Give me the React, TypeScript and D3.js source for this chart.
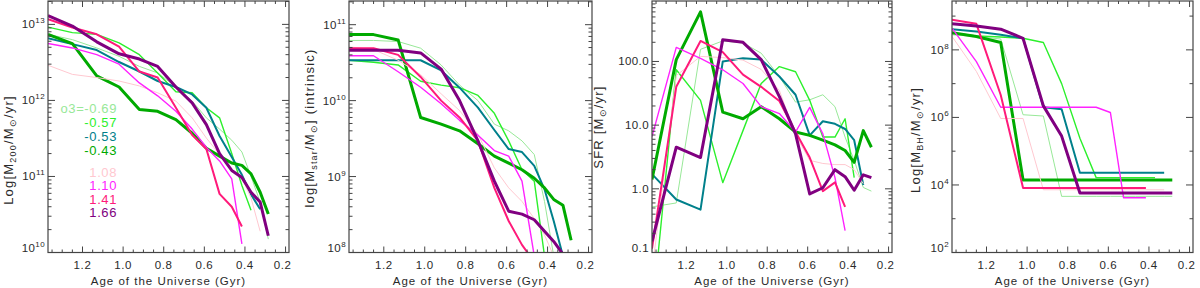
import React, { useEffect, useRef } from 'react';
import * as d3 from 'd3';

// snapshot ages (Gyr)
const ages = [1.37, 1.25, 1.13, 1.02, 0.92, 0.83, 0.74, 0.66, 0.59, 0.525, 0.465, 0.415, 0.37, 0.325, 0.285];

const runLabels = ['o3=-0.69', '-0.57', '-0.53', '-0.43', '1.08', '1.10', '1.41', '1.66'];
const runColors = ['#98e898', '#2cf02c', '#00808b', '#00aa00', '#ffc8d0', '#ff22ff', '#ff1a7a', '#800080'];
const runWidths = [1, 1.4, 2, 3, 1, 1.4, 2, 3];

// M200 per run, same order as runLabels
const m200Values = [
  [7.4e12, 6.3e12, 4.9e12, 3.8e12, 2.8e12, 2.3e12, 1.5e12, 9.8e11, 5.9e11, 4.2e11, 3.0e11, 2.1e11, 1.0e11, 4.6e10, 1.5e10],
  [9.2e12, 7.8e12, 7.4e12, 5.7e12, 4.0e12, 2.3e12, 1.3e12, 1.26e12, 8e11, 5.9e11, 2.0e11, 7.6e10, 3.6e10],
  [6.6e12, 5.5e12, 4.6e12, 3.2e12, 2.4e12, 1.8e12, 1.5e12, 1.2e12, 8e11, 3.4e11, 1.8e11, 1.05e11, 5.8e10, 3.7e10],
  [7.4e12, 5.6e12, 2.1e12, 1.5e12, 7.6e11, 7.2e11, 5.6e11, 3.7e11, 2.35e11, 1.85e11, 1.5e11, 1.4e11, 1.08e11, 6.2e10, 3.2e10],
  [2.9e12, 2.2e12, 2.0e12, 1.8e12, 1.55e12, 1.26e12, 9.8e11, 5.9e11, 3.2e11, 1.95e11, 1.23e11, 9.5e10, 5.2e10, 1.9e10],
  [5.6e12, 4.9e12, 4.0e12, 3.0e12, 1.7e12, 1.15e12, 7.2e11, 4.2e11, 2.4e11, 1.6e11, 9.3e10, 1.3e10],
  [1.17e13, 9.1e12, 7.4e12, 5.1e12, 2.4e12, 2.0e12, 8e11, 3.5e11, 2.3e11, 5.9e10, 4.0e10, 2.2e10],
  [1.3e13, 9.5e12, 5.9e12, 4.1e12, 3.5e12, 2.8e12, 1.5e12, 9.3e11, 4.8e11, 2.0e11, 1.2e11, 9.7e10, 6.2e10, 4.6e10, 1.66e10],
];

// stellar mass
const mstarValues = [
  [6.2e10, 6.2e10, 6.0e10, 4.9e10, 2.95e10, 1.6e10, 1.0e10, 4.9e9, 4.0e9, 2.95e9, 1.95e9, 4.7e8, 9e7],
  [3.4e10, 3.2e10, 2.95e10, 1.8e10, 1.6e10, 1.48e10, 1.17e10, 6.8e9, 2.95e9, 1.23e9, 8.7e8, 9e7],
  [3.4e10, 3.4e10, 3.4e10, 3.4e10, 2.5e10, 1.48e10, 8.1e9, 4.1e9, 2.3e9, 2.1e9, 1.38e9, 6.8e8, 2.6e8, 9e7],
  [7.4e10, 7.4e10, 6.3e10, 6.0e9, 4.9e9, 4.0e9, 2.7e9, 1.86e9, 1.5e9, 1.23e9, 9.5e8, 7.1e8, 5.0e8, 4.2e8, 1.45e8],
  [5.1e10, 4.7e10, 3.4e10, 2.2e10, 1.23e10, 7.4e9, 3.6e9, 1.3e9, 7.1e8, 4.7e8, 2.8e8, 1.7e8, 9e7, 6e7],
  [3.9e10, 3.9e10, 2.4e10, 1.5e10, 9.1e9, 5.5e9, 3.5e9, 2.2e9, 1.86e9, 8.7e8, 9e7, 3e7],
  [4.9e10, 4.9e10, 4.0e10, 2.05e10, 1.0e10, 6.0e9, 2.95e9, 7.1e8, 2.6e8, 1.26e8, 7.5e7, 5e7],
  [4.6e10, 4.6e10, 4.6e10, 4.25e10, 2.6e10, 1.0e10, 2.95e9, 8.7e8, 3.5e8, 3.2e8, 2.7e8, 1.9e8, 1.4e8, 9.5e7, 6e7],
];

// star formation rate
const sfrValues = [
  [0.52, 0.6, 155, 210, 195, 135, 58, 23, 25, 30, 19.5, 6.5, 2.8, 1.05, 0.92],
  [0.01, 74, 24.5, 1.25, 8.2, 45, 83, 69, 24.5, 6.5, 6.5, 12.6, 1.5],
  [1.7, 0.68, 0.47, 100, 112, 107, 58, 30, 6.9, 11.5, 10.5, 8.7, 5.8, 1.15],
  [1.4, 107, 600, 16, 12.6, 19.5, 12.6, 7.8, 6.9, 5.8, 4.9, 4.0, 2.6, 8.2, 4.5],
  [0.05, 60, 120, 115, 105, 75, 35, 7, 2.8, 2.5, 2.4, 2.4, 2.0, 1.2],
  [6.6, 166, 112, 74, 45, 19.5, 15.2, 7.8, 19, 7.3, 1.5, 0.22],
  [0.115, 40, 210, 140, 62, 40, 24, 7.8, 3.1, 0.92, 1.26, 0.52],
  [0.15, 4.5, 3.1, 220, 200, 107, 28, 7.3, 0.83, 1.04, 2.0, 1.55, 0.95, 1.66, 1.5],
];

// black hole mass
const mbhValues = [
  [2.8e8, 2.5e8, 2.1e8, 1.2e6, 1.1e6, 4.6e3, 4.6e3, 4.6e3, 4.6e3, 4.6e3, 4.6e3, 4.6e3, 4.6e3, 4.6e3, 4.6e3],
  [3.2e8, 2.6e8, 2.4e8, 2.2e8, 1.65e8, 1.0e7, 2.4e5, 1.65e4, 1.65e4, 1.65e4, 1.65e4, 1.65e4, 1.65e4],
  [4.1e8, 3.5e8, 2.8e8, 2.2e8, 2.0e6, 1.75e6, 2.3e4, 2.3e4, 2.3e4, 2.3e4, 2.3e4, 2.3e4, 2.3e4, 2.3e4],
  [3.2e8, 2.5e8, 1.65e8, 1.4e4, 1.4e4, 1.4e4, 1.4e4, 1.4e4, 1.4e4, 1.4e4, 1.4e4, 1.4e4, 1.4e4, 1.4e4, 1.4e4],
  [2.5e8, 2.3e7, 9.3e5, 9.3e5, 7.2e3, 7.2e3, 7.2e3, 7.2e3, 7.2e3, 7.2e3, 7.2e3, 7.2e3, 7.2e3, 7.2e3],
  [4.4e8, 4.5e7, 2.0e6, 2.0e6, 2.0e6, 2.0e6, 2.0e6, 2.0e6, 1.4e6, 4.2e3, 4.2e3, 4.2e3],
  [7.8e8, 5.9e8, 4.6e6, 8.1e3, 8.1e3, 8.1e3, 8.1e3, 8.1e3, 8.1e3, 8.1e3, 8.1e3, 8.1e3],
  [5.9e8, 5.1e8, 4.1e8, 2.2e8, 2.2e6, 2.8e5, 5.8e3, 5.8e3, 5.8e3, 5.8e3, 5.8e3, 5.8e3, 5.8e3, 5.8e3, 5.8e3],
];

const xTicks = [1.2, 1.0, 0.8, 0.6, 0.4, 0.2];

const FONT = "'Liberation Sans', Arial, sans-serif";
const INK = '#2a2a2a';

type Part = { t: string; sub?: boolean };

const panels = [
  {
    left: 48, right: 289, domain: [1e10, 2.03e13], majors: [1e10, 1e11, 1e12, 1e13], minorEvery: 1,
    labels: null as string[] | null, values: m200Values,
    title: [{ t: 'Log[M' }, { t: '200', sub: true }, { t: '/M' }, { t: '⊙', sub: true }, { t: '/yr]' }] as Part[],
    titleX: 13, titleY: 150,
  },
  {
    left: 349, right: 592, domain: [1e8, 2.05e11], majors: [1e8, 1e9, 1e10, 1e11], minorEvery: 1,
    labels: null, values: mstarValues,
    title: [{ t: 'log[M' }, { t: 'star', sub: true }, { t: '/M' }, { t: '⊙', sub: true }, { t: '] (intrinsic)' }] as Part[],
    titleX: 314, titleY: 128,
  },
  {
    left: 652, right: 892, domain: [0.1, 890], majors: [0.1, 1, 10, 100], minorEvery: 1,
    labels: ['0.1', '1.0', '10.0', '100.0'], values: sfrValues,
    title: [{ t: 'SFR [M' }, { t: '⊙', sub: true }, { t: '/yr]' }] as Part[],
    titleX: 603, titleY: 127,
  },
  {
    left: 952, right: 1193, domain: [1e2, 2.8e9], majors: [1e2, 1e4, 1e6, 1e8], minorEvery: 2,
    labels: null, values: mbhValues,
    title: [{ t: 'Log[M' }, { t: 'BH', sub: true }, { t: '/M' }, { t: '⊙', sub: true }, { t: '/yr]' }] as Part[],
    titleX: 920, titleY: 140,
  },
];

const TOP = 1;
const BOTTOM = 252.5;

const App = () => {
  const ref = useRef<SVGSVGElement | null>(null);

  useEffect(() => {
    document.body.style.margin = '0';
    const svg = d3.select(ref.current);
    svg.selectAll('*').remove();

    panels.forEach((p, pi) => {
      const g = svg.append('g');
      const x = d3.scaleLinear().domain([1.37, 0.183]).range([p.left, p.right]);
      const y = d3.scaleLog().domain(p.domain).range([BOTTOM, TOP]);

      const clipId = `clip${pi}`;
      svg.append('clipPath').attr('id', clipId)
        .append('rect').attr('x', p.left).attr('y', TOP)
        .attr('width', p.right - p.left).attr('height', BOTTOM - TOP);

      // lines
      const line = d3.line<number>().x((_, i) => x(ages[i])).y(d => y(d));
      const lg = g.append('g').attr('clip-path', `url(#${clipId})`);
      p.values.forEach((vals, ri) => {
        lg.append('path')
          .attr('d', line(vals) as string)
          .attr('fill', 'none')
          .attr('stroke', runColors[ri])
          .attr('stroke-width', runWidths[ri])
          .attr('stroke-linejoin', 'round');
      });

      // frame
      g.append('rect').attr('x', p.left).attr('y', TOP)
        .attr('width', p.right - p.left).attr('height', BOTTOM - TOP)
        .attr('fill', 'none').attr('stroke', '#444').attr('stroke-width', 1.2);

      // x ticks
      const minorX = d3.range(4, 28).map(k => k * 0.05).filter(v => v < 1.37 && Math.abs((v * 10) % 2) > 0.05 && Math.abs((v * 10) % 2 - 2) > 0.05);
      const tickG = g.append('g').attr('stroke', '#444').attr('stroke-width', 1);
      xTicks.forEach(t => {
        tickG.append('line').attr('x1', x(t)).attr('x2', x(t)).attr('y1', BOTTOM).attr('y2', BOTTOM - 6);
        tickG.append('line').attr('x1', x(t)).attr('x2', x(t)).attr('y1', TOP).attr('y2', TOP + 6);
      });
      minorX.forEach(t => {
        tickG.append('line').attr('x1', x(t)).attr('x2', x(t)).attr('y1', BOTTOM).attr('y2', BOTTOM - 3);
        tickG.append('line').attr('x1', x(t)).attr('x2', x(t)).attr('y1', TOP).attr('y2', TOP + 3);
      });
      xTicks.forEach(t => {
        g.append('text').attr('x', x(t) - (t === 0.2 ? 3 : 0)).attr('y', 269)
          .attr('text-anchor', 'middle').attr('font-family', FONT).attr('font-size', 11.5)
          .attr('letter-spacing', 0.6).attr('fill', INK).text(t.toFixed(1));
      });
      g.append('text').attr('x', (p.left + p.right) / 2).attr('y', 285)
        .attr('text-anchor', 'middle').attr('font-family', FONT).attr('font-size', 11.5)
        .attr('letter-spacing', 1).attr('fill', INK).text('Age of the Universe (Gyr)');

      // y ticks
      const [lo, hi] = p.domain;
      const e0 = Math.floor(Math.log10(lo));
      const e1 = Math.ceil(Math.log10(hi));
      for (let e = e0; e <= e1; e++) {
        const base = Math.pow(10, e);
        const isMajor = p.majors.some(m => Math.abs(Math.log10(m) - e) < 1e-6);
        if (p.minorEvery === 1) {
          for (let k = 2; k <= 9; k++) {
            const v = k * base;
            if (v < lo || v > hi) continue;
            tickG.append('line').attr('x1', p.left).attr('x2', p.left + 3.5).attr('y1', y(v)).attr('y2', y(v));
            tickG.append('line').attr('x1', p.right).attr('x2', p.right - 3.5).attr('y1', y(v)).attr('y2', y(v));
          }
        } else if (!isMajor && base >= lo && base <= hi) {
          tickG.append('line').attr('x1', p.left).attr('x2', p.left + 3.5).attr('y1', y(base)).attr('y2', y(base));
          tickG.append('line').attr('x1', p.right).attr('x2', p.right - 3.5).attr('y1', y(base)).attr('y2', y(base));
        }
      }
      p.majors.forEach((m, mi) => {
        tickG.append('line').attr('x1', p.left).attr('x2', p.left + 7).attr('y1', y(m)).attr('y2', y(m));
        tickG.append('line').attr('x1', p.right).attr('x2', p.right - 7).attr('y1', y(m)).attr('y2', y(m));
        const ty = m === lo ? y(m) - 1 : y(m) + 4;
        const txt = g.append('text').attr('x', p.left - 3).attr('y', ty)
          .attr('text-anchor', 'end').attr('font-family', FONT).attr('font-size', 11.5)
          .attr('letter-spacing', 0.4).attr('fill', INK);
        if (p.labels) {
          txt.text(p.labels[mi]);
        } else {
          txt.append('tspan').text('10');
          txt.append('tspan').attr('dy', -5).attr('font-size', 8).text(String(Math.round(Math.log10(m))));
        }
      });

      // y title
      const tt = g.append('text')
        .attr('transform', `translate(${p.titleX},${p.titleY}) rotate(-90)`)
        .attr('text-anchor', 'middle').attr('font-family', FONT).attr('font-size', 13)
        .attr('letter-spacing', 1.2).attr('fill', INK);
      let shifted = false;
      p.title.forEach(part => {
        const ts = tt.append('tspan').text(part.t);
        if (part.sub && !shifted) { ts.attr('dy', 3).attr('font-size', 9); shifted = true; }
        else if (part.sub) { ts.attr('font-size', 9); }
        else if (shifted) { ts.attr('dy', -3); shifted = false; }
      });
    });

    // legend in first panel
    const legendY = [108, 122, 136, 150, 172, 185.5, 199, 212.5];
    runLabels.forEach((lab, i) => {
      svg.append('text').attr('x', 117).attr('y', legendY[i] + 4.5)
        .attr('text-anchor', 'end').attr('font-family', FONT).attr('font-size', 13)
        .attr('letter-spacing', 0.6).attr('fill', runColors[i]).text(lab);
    });
  }, []);

  return <svg ref={ref} width={1200} height={288} style={{ display: 'block', background: '#fff' }} />;
};

export default App;
